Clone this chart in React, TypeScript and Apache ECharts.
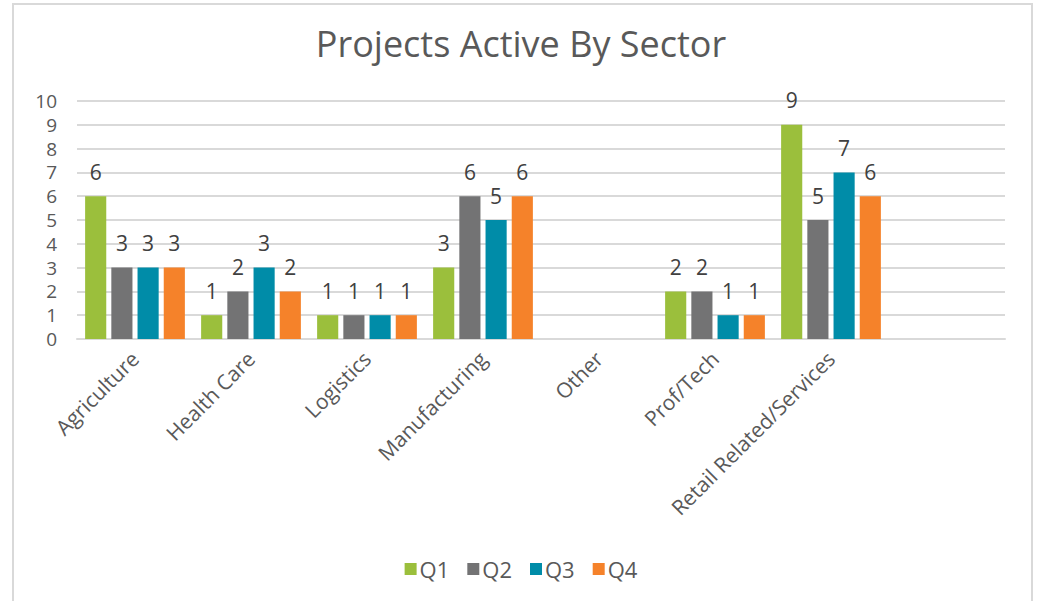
import React, { useEffect, useRef } from "react";
import * as echarts from "echarts";

const categories = ["Agriculture", "Health Care", "Logistics", "Manufacturing", "Other", "Prof/Tech", "Retail Related/Services", ""];
const seriesNames = ["Q1", "Q2", "Q3", "Q4"];
const q1 = [6, 1, 1, 3, null, 2, 9, null];
const q2 = [3, 2, 1, 6, null, 2, 5, null];
const q3 = [3, 3, 1, 5, null, 1, 7, null];
const q4 = [3, 2, 1, 6, null, 1, 6, null];
const colors = ["#9BBF3C", "#737374", "#008CA8", "#F5822A"];
const yTicks = { min: 0, max: 10, interval: 1 };

const FONT = "Open Sans";

export default function App() {
  const ref = useRef<HTMLDivElement>(null);
  useEffect(() => {
    const chart = echarts.init(ref.current!, null, { renderer: "svg" });
    const data = [q1, q2, q3, q4];
    chart.setOption({
      animation: false,
      backgroundColor: "#ffffff",
      textStyle: { fontFamily: FONT },
      title: {
        text: "Projects Active By Sector",
        left: "center",
        top: 20,
        textStyle: { fontFamily: FONT, fontSize: 36, fontWeight: "normal", color: "#595959" },
      },
      graphic: [
        {
          type: "rect",
          shape: { x: 13, y: 4, width: 1019, height: 640 },
          style: { fill: "none", stroke: "#d9d9d9", lineWidth: 2 },
          silent: true,
        },
      ],
      legend: {
        bottom: 16,
        left: "center",
        itemWidth: 12,
        itemHeight: 12,
        itemGap: 18,
        icon: "rect",
        textStyle: { fontFamily: FONT, fontSize: 22, color: "#595959", padding: [0, 0, 0, -2] },
        data: seriesNames,
      },
      grid: { left: 77, right: 37, top: 101, bottom: 262, containLabel: false },
      xAxis: {
        type: "category",
        data: categories,
        axisLine: { show: true, lineStyle: { color: "#d9d9d9", width: 2 } },
        axisTick: { show: false },
        axisLabel: {
          interval: 0,
          rotate: 45,
          margin: 16,
          fontFamily: FONT,
          fontSize: 21,
          color: "#595959",
        },
      },
      yAxis: {
        type: "value",
        min: yTicks.min,
        max: yTicks.max,
        interval: yTicks.interval,
        axisLine: { show: false },
        axisTick: { show: false },
        splitLine: { lineStyle: { color: "#d9d9d9", width: 2 } },
        axisLabel: { margin: 20, fontFamily: FONT, fontSize: 19, lineHeight: 19, color: "#595959" },
      },
      series: seriesNames.map((name, i) => ({
        name,
        type: "bar",
        data: data[i],
        itemStyle: { color: colors[i] },
        barGap: "24%",
        barCategoryGap: "14%",
        label: {
          show: true,
          position: "top",
          distance: 14,
          fontFamily: FONT,
          fontSize: 21,
          lineHeight: 21,
          color: "#404040",
        },
      })),
    });
    return () => chart.dispose();
  }, []);
  return (
    <div
      ref={ref}
      style={{ position: "absolute", left: 0, top: 0, width: 1042, height: 601 }}
    />
  );
}
